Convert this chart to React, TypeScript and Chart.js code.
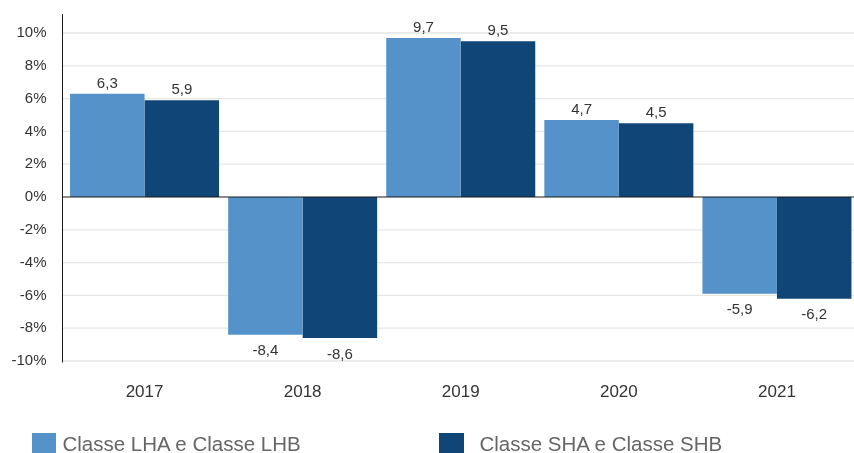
import React, { useEffect, useRef } from "react";
import { Chart, registerables } from "chart.js";

Chart.register(...registerables);

const categories = ["2017", "2018", "2019", "2020", "2021"];
const seriesLHA = [6.3, -8.4, 9.7, 4.7, -5.9];
const seriesSHA = [5.9, -8.6, 9.5, 4.5, -6.2];
const seriesNames = ["Classe LHA e Classe LHB", "Classe SHA e Classe SHB"];
const seriesColors = ["#5592C9", "#104677"];
const yTickValues = [-10, -8, -6, -4, -2, 0, 2, 4, 6, 8, 10];

const FONT = "'Liberation Sans', Arial, Helvetica, sans-serif";

const customPlugin = {
  id: "customDecor",
  beforeDatasetsDraw(chart: any) {
    const { ctx, chartArea, scales } = chart;
    const y = scales.y;
    const axisX = 62.5;
    ctx.save();
    ctx.strokeStyle = "#e6e6e6";
    ctx.lineWidth = 1.3;
    y.ticks.forEach((t: any) => {
      if (t.value === 0) return;
      const py = y.getPixelForValue(t.value);
      ctx.beginPath();
      ctx.moveTo(axisX, py);
      ctx.lineTo(chartArea.right, py);
      ctx.stroke();
    });
    ctx.restore();
  },
  afterDatasetsDraw(chart: any) {
    const { ctx, chartArea, scales } = chart;
    const y = scales.y;
    const axisX = 62.5;
    ctx.save();
    const zy = y.getPixelForValue(0);
    ctx.strokeStyle = "#1a1a1a";
    ctx.lineWidth = 1.2;
    ctx.beginPath();
    ctx.moveTo(axisX, zy);
    ctx.lineTo(chartArea.right, zy);
    ctx.stroke();
    ctx.lineWidth = 1;
    ctx.beginPath();
    ctx.moveTo(axisX, chartArea.top);
    ctx.lineTo(axisX, chartArea.bottom + 1.5);
    ctx.stroke();
    ctx.fillStyle = "#333333";
    ctx.font = `15px ${FONT}`;
    ctx.textAlign = "center";
    ctx.textBaseline = "alphabetic";
    chart.data.datasets.forEach((ds: any, di: number) => {
      const meta = chart.getDatasetMeta(di);
      meta.data.forEach((bar: any, i: number) => {
        const v = ds.data[i];
        const label = v.toFixed(1).replace(".", ",");
        if (v >= 0) {
          ctx.fillText(label, bar.x, bar.y - 6);
        } else {
          ctx.fillText(label, bar.x, bar.y + 20.7);
        }
      });
    });
    ctx.restore();
  },
};

export default function App() {
  const canvasRef = useRef<HTMLCanvasElement | null>(null);

  useEffect(() => {
    const canvas = canvasRef.current;
    if (!canvas) return;
    const chart = new Chart(canvas, {
      type: "bar",
      data: {
        labels: categories,
        datasets: [
          {
            label: seriesNames[0],
            data: seriesLHA,
            backgroundColor: seriesColors[0],
            borderWidth: 0,
          },
          {
            label: seriesNames[1],
            data: seriesSHA,
            backgroundColor: seriesColors[1],
            borderWidth: 0,
          },
        ],
      },
      options: {
        responsive: false,
        animation: false,
        devicePixelRatio: 1,
        layout: { padding: { top: 14, right: 0, bottom: 0, left: 0 } },
        datasets: {
          bar: { categoryPercentage: 0.9425, barPercentage: 1 },
        },
        plugins: {
          legend: { display: false },
          tooltip: { enabled: false },
        },
        scales: {
          x: {
            grid: { display: false, drawTicks: false },
            border: { display: false },
            ticks: {
              color: "#333333",
              font: { family: FONT, size: 17 },
              padding: 21,
            },
            afterFit(scale: any) {
              scale.height = 92;
              scale.paddingLeft = 0;
              scale.paddingRight = 0;
            },
          },
          y: {
            min: -10,
            max: 11.16,
            grid: { display: false, drawTicks: false },
            border: { display: false },
            ticks: {
              stepSize: 2,
              color: "#333333",
              font: { family: FONT, size: 15 },
              padding: 19,
              callback: (v: any) => `${v}%`,
            },
            afterBuildTicks(scale: any) {
              scale.ticks = yTickValues.map((v) => ({ value: v }));
            },
            afterFit(scale: any) {
              scale.width = 65.5;
              scale.paddingTop = 0;
              scale.paddingBottom = 0;
            },
          },
        },
      },
      plugins: [customPlugin],
    });
    return () => chart.destroy();
  }, []);

  const legendText: React.CSSProperties = {
    position: "absolute",
    fontFamily: FONT,
    fontSize: "20.5px",
    lineHeight: "20.5px",
    color: "#666666",
    whiteSpace: "nowrap",
    top: "433.6px",
  };

  return (
    <div
      style={{
        position: "absolute",
        left: 0,
        top: 0,
        width: 854,
        height: 453,
        overflow: "hidden",
        background: "#ffffff",
      }}
    >
      <canvas
        ref={canvasRef}
        width={856}
        height={453}
        style={{ position: "absolute", left: 0, top: 0, width: 856, height: 453 }}
      />
      <div
        style={{
          position: "absolute",
          left: 31.5,
          top: 433.3,
          width: 24.5,
          height: 25,
          background: seriesColors[0],
        }}
      />
      <div style={{ ...legendText, left: 62.5 }}>{seriesNames[0]}</div>
      <div
        style={{
          position: "absolute",
          left: 438.7,
          top: 433.3,
          width: 25.3,
          height: 25,
          background: seriesColors[1],
        }}
      />
      <div style={{ ...legendText, left: 479.5 }}>{seriesNames[1]}</div>
    </div>
  );
}
